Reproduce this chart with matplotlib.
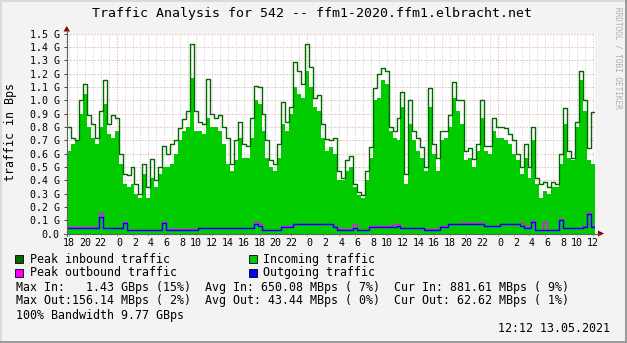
import numpy as np
import matplotlib
matplotlib.use("Agg")
import matplotlib.pyplot as plt
from matplotlib.lines import Line2D
from matplotlib.patches import Polygon, Rectangle

# ---------------- data (GBps, 30-minute bins starting 17:45 day 1) ----------------
start_hour = 17.75
bin_hours = 0.5

peak_in = [
    0.80, 0.72, 0.70, 1.00, 1.12, 0.89, 0.82, 0.72, 0.92, 1.15,
    0.82, 0.89, 0.87, 0.60, 0.45, 0.44, 0.50, 0.37, 0.30, 0.52,
    0.35, 0.56, 0.40, 0.50, 0.66, 0.60, 0.67, 0.70, 0.79, 0.86,
    0.92, 1.42, 0.92, 0.84, 0.82, 1.16, 0.90, 0.87, 0.89, 0.80,
    0.72, 0.52, 0.70, 0.84, 0.67, 0.66, 0.87, 1.11, 1.10, 0.90,
    0.70, 0.55, 0.52, 0.67, 0.99, 0.84, 0.95, 1.29, 1.22, 1.12,
    1.42, 1.25, 1.02, 1.04, 0.82, 0.71, 0.70,
    0.72, 0.47, 0.42,
    0.55, 0.58, 0.37, 0.31, 0.29, 0.47, 0.65, 1.09, 1.20, 1.24,
    1.22, 0.80, 0.77, 0.87, 1.06, 0.45, 1.00, 0.77, 0.72, 0.65,
    0.50, 1.09, 0.67, 0.57, 0.77, 0.77, 0.89, 1.14, 1.00, 1.00,
    0.62, 0.64, 0.56, 0.67, 1.00, 0.66, 0.66, 0.87, 0.80, 0.80,
    0.79, 0.75, 0.70, 0.60, 0.50, 0.67, 0.50, 0.80, 0.42, 0.37,
    0.39, 0.35, 0.39, 0.37, 0.60, 0.94, 0.62, 0.57, 0.84, 1.22,
    1.00, 0.64, 0.91,
]

avg_in = [
    0.62, 0.67, 0.70, 0.90, 1.05, 0.80, 0.72, 0.67, 0.80, 0.97,
    0.75, 0.72, 0.77, 0.52, 0.37, 0.35, 0.37, 0.30, 0.27, 0.45,
    0.27, 0.42, 0.35, 0.45, 0.50, 0.50, 0.52, 0.60, 0.70, 0.77,
    0.80, 1.17, 0.77, 0.77, 0.75, 0.87, 0.80, 0.80, 0.77, 0.67,
    0.52, 0.47, 0.55, 0.72, 0.57, 0.57, 0.72, 1.00, 0.97, 0.77,
    0.57, 0.50, 0.47, 0.57, 0.82, 0.77, 0.90, 1.10, 1.05, 1.02,
    1.22, 1.10, 0.95, 0.92, 0.72, 0.62, 0.65,
    0.60, 0.40, 0.40,
    0.47, 0.50, 0.35, 0.29, 0.27, 0.40, 0.57, 1.00, 1.02, 1.15,
    1.12, 0.77, 0.72, 0.70, 0.95, 0.37, 0.82, 0.70, 0.62, 0.57,
    0.47, 0.95, 0.60, 0.47, 0.70, 0.72, 0.80, 1.02, 0.92, 0.82,
    0.55, 0.57, 0.50, 0.62, 0.87, 0.62, 0.60, 0.77, 0.72, 0.72,
    0.70, 0.67, 0.60, 0.55, 0.45, 0.57, 0.42, 0.70, 0.37, 0.27,
    0.32, 0.30, 0.35, 0.35, 0.52, 0.82, 0.57, 0.55, 0.80, 1.15,
    0.92, 0.55, 0.52,
]

avg_out = [
    0.043, 0.043, 0.043, 0.043, 0.043, 0.043, 0.043, 0.043, 0.125, 0.040,
    0.040, 0.040, 0.040, 0.040, 0.080, 0.025, 0.025, 0.025, 0.025, 0.025,
    0.025, 0.025, 0.025, 0.025, 0.080, 0.030, 0.030, 0.030, 0.030, 0.030,
    0.030, 0.030, 0.030, 0.038, 0.038, 0.038, 0.038, 0.038, 0.038, 0.038,
    0.038, 0.038, 0.038, 0.038, 0.038, 0.038, 0.038, 0.075, 0.060, 0.025,
    0.025, 0.025, 0.025, 0.025, 0.050, 0.050, 0.050, 0.070, 0.070, 0.070,
    0.070, 0.070, 0.070, 0.070, 0.070, 0.070, 0.070,
    0.050, 0.030, 0.030,
    0.030, 0.030, 0.045, 0.025, 0.025, 0.025, 0.050, 0.050, 0.050, 0.050,
    0.050, 0.050, 0.050, 0.055, 0.040, 0.040, 0.040, 0.040, 0.040, 0.040,
    0.030, 0.030, 0.030, 0.030, 0.050, 0.050, 0.070, 0.070, 0.070, 0.075,
    0.075, 0.075, 0.075, 0.075, 0.075, 0.055, 0.055, 0.055, 0.055, 0.070,
    0.070, 0.070, 0.070, 0.070, 0.060, 0.045, 0.045, 0.090, 0.025, 0.025,
    0.025, 0.025, 0.025, 0.025, 0.100, 0.040, 0.040, 0.040, 0.040, 0.040,
    0.050, 0.150, 0.050,
]

peak_out = [
    0.050, 0.050, 0.050, 0.050, 0.050, 0.050, 0.050, 0.050, 0.152, 0.045,
    0.045, 0.045, 0.045, 0.045, 0.090, 0.030, 0.030, 0.030, 0.030, 0.030,
    0.030, 0.030, 0.030, 0.030, 0.090, 0.035, 0.035, 0.035, 0.035, 0.035,
    0.035, 0.035, 0.035, 0.045, 0.045, 0.045, 0.045, 0.045, 0.045, 0.045,
    0.045, 0.045, 0.045, 0.045, 0.045, 0.045, 0.045, 0.090, 0.070, 0.030,
    0.030, 0.030, 0.030, 0.030, 0.055, 0.055, 0.055, 0.075, 0.075, 0.075,
    0.075, 0.075, 0.075, 0.075, 0.075, 0.075, 0.075,
    0.055, 0.035, 0.035,
    0.035, 0.035, 0.075, 0.030, 0.030, 0.030, 0.060, 0.060, 0.060, 0.060,
    0.060, 0.060, 0.070, 0.075, 0.045, 0.045, 0.045, 0.045, 0.045, 0.045,
    0.035, 0.035, 0.035, 0.035, 0.055, 0.055, 0.075, 0.075, 0.075, 0.080,
    0.080, 0.080, 0.080, 0.080, 0.080, 0.060, 0.060, 0.060, 0.060, 0.075,
    0.075, 0.075, 0.075, 0.075, 0.080, 0.050, 0.050, 0.095, 0.030, 0.030,
    0.090, 0.030, 0.030, 0.030, 0.110, 0.045, 0.045, 0.045, 0.045, 0.045,
    0.055, 0.155, 0.060,
]

y_ticks = [0.0, 0.1, 0.2, 0.3, 0.4, 0.5, 0.6, 0.7, 0.8, 0.9, 1.0, 1.1, 1.2, 1.3, 1.4, 1.5]
y_tick_labels = ["0.0", "0.1 G", "0.2 G", "0.3 G", "0.4 G", "0.5 G", "0.6 G", "0.7 G",
                 "0.8 G", "0.9 G", "1.0 G", "1.1 G", "1.2 G", "1.3 G", "1.4 G", "1.5 G"]
x_tick_hours = list(range(18, 85, 2))
x_tick_labels = ["%2d" % (h % 24) for h in x_tick_hours]

title = "Traffic Analysis for 542 -- ffm1-2020.ffm1.elbracht.net"
legend_rows = [
    ("Peak inbound traffic", "#006600", "Incoming traffic", "#00CC00"),
    ("Peak outbound traffic", "#FF00FF", "Outgoing traffic", "#0000FF"),
]
stats_lines = [
    "Max In:   1.43 GBps (15%)  Avg In: 650.08 MBps ( 7%)  Cur In: 881.61 MBps ( 9%)",
    "Max Out:156.14 MBps ( 2%)  Avg Out: 43.44 MBps ( 0%)  Cur Out: 62.62 MBps ( 1%)",
    "100% Bandwidth 9.77 GBps",
]
timestamp = "12:12 13.05.2021"

# ---------------- figure ----------------
W, H = 627, 343
MONO = "DejaVu Sans Mono"
fig = plt.figure(figsize=(W / 100, H / 100), dpi=100)
fig.patch.set_facecolor("#F3F3F3")


def fx(x):
    return x / W


def fy(y):
    return 1 - y / H


ax_l, ax_r, ax_t, ax_b = 67, 595, 33.5, 233.5
ax = fig.add_axes([fx(ax_l), fy(ax_b), (ax_r - ax_l) / W, (ax_b - ax_t) / H])
ax.set_facecolor("white")

n = len(peak_in)
edges = start_hour + bin_hours * np.arange(n + 1)


def stepv(v):
    v = np.asarray(v, dtype=float)
    return np.append(v, v[-1])


ax.set_xlim(edges[0], edges[-1])
ax.set_ylim(0, 1.5)

# grid (dotted)
for h in range(18, 85):
    red = (h % 24 == 0)
    ax.axvline(h, color="#E09A9A" if red else "#C6C6C6", lw=0.72,
               ls=(0, (1, 2)), zorder=0.5)
for yv in y_ticks[1:]:
    ax.axhline(yv, color="#E09A9A", lw=0.72, ls=(0, (1, 2)), zorder=0.6)

# data
ax.fill_between(edges, 0, stepv(avg_in), step="post", color="#00CC00", lw=0, zorder=2)
ax.step(edges, stepv(peak_in), where="post", color="#006600", lw=1.0, zorder=3)
ax.step(edges, stepv(peak_out), where="post", color="#FF00FF", lw=1.0, zorder=4)
ax.step(edges, stepv(avg_out), where="post", color="#0000FF", lw=1.0, zorder=5)

for s in ax.spines.values():
    s.set_visible(False)

ax.set_yticks(y_ticks)
ax.set_yticklabels(y_tick_labels, fontfamily=MONO, fontsize=7.2)
ax.set_xticks(x_tick_hours)
ax.set_xticklabels(x_tick_labels, fontfamily=MONO, fontsize=7.2)
ax.tick_params(axis="y", length=2.2, width=0.7, color="#404040", pad=3.2)
ax.tick_params(axis="x", length=1.5, width=0.7, color="#B0B0B0", pad=1.5)

# axes lines and arrows
fig.add_artist(Line2D([fx(66.5), fx(66.5)], [fy(236), fy(30)], color="#606060", lw=0.8))
fig.add_artist(Line2D([fx(64), fx(599)], [fy(233.5), fy(233.5)], color="#606060", lw=0.8))
fig.add_artist(Polygon([(fx(63.5), fy(31.5)), (fx(70), fy(31.5)), (fx(66.75), fy(26))],
                       closed=True, color="#7F0000", lw=0))
fig.add_artist(Polygon([(fx(598), fy(230.5)), (fx(598), fy(236.5)), (fx(604), fy(233.5))],
                       closed=True, color="#7F0000", lw=0))

# texts
fig.text(fx(312.5), fy(13), title, ha="center", va="center", fontfamily=MONO, fontsize=9.5)
fig.text(fx(11), fy(132), "traffic in Bps", rotation=90, ha="center", va="center",
         fontfamily=MONO, fontsize=8.4)
fig.text(fx(618), fy(58), "RRDTOOL / TOBI OETIKER", rotation=270, ha="center", va="center",
         fontfamily=MONO, fontsize=5.6, color="#B0B0B0")

row_y = [259.3, 272.7]
for (l1, c1, l2, c2), yy in zip(legend_rows, row_y):
    fig.add_artist(Rectangle((fx(15.5), fy(yy + 4)), 8 / W, 8 / H, facecolor=c1,
                             edgecolor="black", lw=0.6))
    fig.text(fx(30), fy(yy), l1, ha="left", va="center", fontfamily=MONO, fontsize=8.4)
    fig.add_artist(Rectangle((fx(248.5), fy(yy + 4)), 8 / W, 8 / H, facecolor=c2,
                             edgecolor="black", lw=0.6))
    fig.text(fx(263), fy(yy), l2, ha="left", va="center", fontfamily=MONO, fontsize=8.4)

for line, yy in zip(stats_lines, [287.3, 300.7, 315.0]):
    fig.text(fx(16), fy(yy), line, ha="left", va="center", fontfamily=MONO, fontsize=8.4)

fig.text(fx(610), fy(328.5), timestamp, ha="right", va="center", fontfamily=MONO, fontsize=8.4)

# 3D frame
fig.add_artist(Rectangle((0, fy(2)), 1, 2 / H, facecolor="#DADADA", lw=0))
fig.add_artist(Rectangle((0, 0), 2 / W, 1, facecolor="#DADADA", lw=0))
fig.add_artist(Rectangle((0, 0), 1, 2.5 / H, facecolor="#9C9C9C", lw=0))
fig.add_artist(Rectangle((fx(624.5), 0), 2.5 / W, 1, facecolor="#9C9C9C", lw=0))

fig.savefig("out.png", dpi=100, facecolor=fig.get_facecolor())
